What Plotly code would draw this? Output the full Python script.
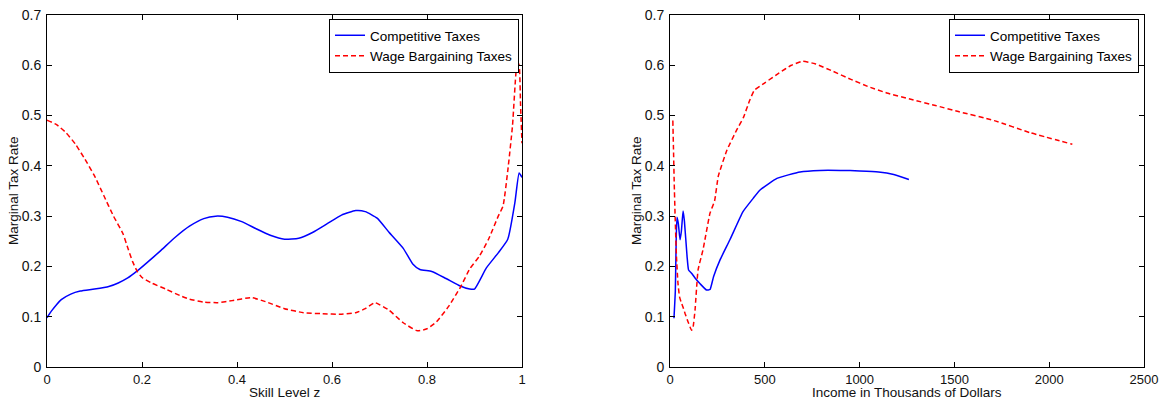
import plotly.graph_objects as go

# Left panel: marginal tax rate vs skill level z
z_comp = [0.0, 0.01, 0.02, 0.03, 0.05, 0.07, 0.1, 0.13, 0.15, 0.17, 0.19, 0.21, 0.24, 0.27, 0.3, 0.33,
          0.355, 0.38, 0.41, 0.44, 0.47, 0.5, 0.53, 0.56, 0.59, 0.62, 0.65, 0.67, 0.695, 0.72, 0.75,
          0.77, 0.785, 0.81, 0.84, 0.87, 0.89, 0.9, 0.925, 0.95, 0.97, 0.985, 0.994, 1.0]
t_comp = [0.098, 0.112, 0.124, 0.134, 0.145, 0.151, 0.155, 0.160, 0.167, 0.177, 0.191, 0.207, 0.232,
          0.258, 0.280, 0.295, 0.300, 0.298, 0.289, 0.275, 0.262, 0.254, 0.256, 0.268, 0.285, 0.302,
          0.311, 0.309, 0.296, 0.268, 0.236, 0.205, 0.194, 0.190, 0.176, 0.161, 0.155, 0.155, 0.197,
          0.227, 0.254, 0.327, 0.386, 0.377]

z_wage = [0.0, 0.02, 0.04, 0.06, 0.08, 0.1, 0.12, 0.14, 0.16, 0.17, 0.18, 0.19, 0.2, 0.22, 0.25, 0.28,
          0.3, 0.33, 0.36, 0.39, 0.43, 0.46, 0.5, 0.54, 0.58, 0.62, 0.65, 0.67, 0.69, 0.7, 0.72, 0.75,
          0.78, 0.8, 0.82, 0.845, 0.87, 0.89, 0.91, 0.93, 0.95, 0.96, 0.97, 0.98, 0.99, 0.994, 0.997, 1.0]
t_wage = [0.491, 0.482, 0.466, 0.443, 0.413, 0.380, 0.340, 0.300, 0.265, 0.237, 0.210, 0.190, 0.178,
          0.167, 0.155, 0.142, 0.135, 0.129, 0.128, 0.132, 0.138, 0.130, 0.116, 0.108, 0.106, 0.105,
          0.108, 0.116, 0.128, 0.124, 0.113, 0.088, 0.072, 0.076, 0.090, 0.120, 0.158, 0.195, 0.220,
          0.255, 0.300, 0.320, 0.390, 0.480, 0.608, 0.600, 0.520, 0.445]

# Right panel: marginal tax rate vs income (thousands of dollars)
inc_comp = [21, 28, 33, 37, 44, 53, 60, 69, 76, 90, 98, 115, 132, 160, 193, 211, 230, 264, 316, 385,
            440, 475, 564, 686, 791, 900, 1000, 1100, 1180, 1260]
r_comp = [0.097, 0.150, 0.260, 0.298, 0.285, 0.253, 0.270, 0.310, 0.290, 0.220, 0.193, 0.186, 0.177,
          0.165, 0.153, 0.154, 0.180, 0.213, 0.253, 0.309, 0.336, 0.352, 0.375, 0.388, 0.391, 0.391,
          0.390, 0.388, 0.383, 0.373]

inc_wage = [15, 18, 22, 27, 34, 42, 50, 58, 68, 79, 95, 114, 122, 132, 148, 174, 211, 235, 255, 300,
            350, 387, 420, 444, 500, 576, 640, 700, 765, 860, 954, 1050, 1143, 1275, 1400, 1521, 1710,
            1899, 2122]
r_wage = [0.490, 0.440, 0.370, 0.300, 0.220, 0.167, 0.140, 0.130, 0.120, 0.107, 0.090, 0.073, 0.080,
          0.113, 0.193, 0.233, 0.306, 0.330, 0.380, 0.431, 0.470, 0.496, 0.530, 0.550, 0.565, 0.585,
          0.600, 0.608, 0.603, 0.588, 0.572, 0.557, 0.545, 0.532, 0.520, 0.508, 0.490, 0.466, 0.443]

y_ticks = [0, 0.1, 0.2, 0.3, 0.4, 0.5, 0.6, 0.7]
y_labels = ["0", "0.1", "0.2", "0.3", "0.4", "0.5", "0.6", "0.7"]
x1_ticks = [0, 0.2, 0.4, 0.6, 0.8, 1]
x1_labels = ["0", "0.2", "0.4", "0.6", "0.8", "1"]
x2_ticks = [0, 500, 1000, 1500, 2000, 2500]
x2_labels = ["0", "500", "1000", "1500", "2000", "2500"]

x1_title = "Skill Level z"
x2_title = "Income in Thousands of Dollars"
y_title = "Marginal Tax Rate"

FONT = "Liberation Sans, Arial, Helvetica, sans-serif"
BLUE = "#0000ff"
RED = "#ff0000"

fig = go.Figure()
fig.add_trace(go.Scatter(x=z_comp, y=t_comp, mode="lines", name="Competitive Taxes",
                         line=dict(color=BLUE, width=1.5, shape="spline", smoothing=0.5),
                         xaxis="x", yaxis="y", legend="legend"))
fig.add_trace(go.Scatter(x=z_wage, y=t_wage, mode="lines", name="Wage Bargaining Taxes",
                         line=dict(color=RED, width=1.5, dash="5px,3px", shape="spline", smoothing=0.5),
                         xaxis="x", yaxis="y", legend="legend"))
fig.add_trace(go.Scatter(x=inc_comp, y=r_comp, mode="lines", name="Competitive Taxes",
                         line=dict(color=BLUE, width=1.5, shape="spline", smoothing=0.4),
                         xaxis="x2", yaxis="y2", legend="legend2"))
fig.add_trace(go.Scatter(x=inc_wage, y=r_wage, mode="lines", name="Wage Bargaining Taxes",
                         line=dict(color=RED, width=1.5, dash="5px,3px", shape="spline", smoothing=0.4),
                         xaxis="x2", yaxis="y2", legend="legend2"))

W, H = 1161, 399
ydom = [1 - 367 / H, 1 - 15 / H]
x1dom = [47 / W, 522 / W]
x2dom = [670 / W, 1144 / W]

axis_common = dict(showline=True, linecolor="black", linewidth=1, mirror="allticks",
                   ticks="inside", ticklen=5, tickcolor="black", showgrid=False, zeroline=False,
                   automargin=False)
xtick_font = dict(family=FONT, size=13, color="#111111")
ytick_font = dict(family=FONT, size=14, color="#111111")

legend_common = dict(bgcolor="white", bordercolor="black", borderwidth=1,
                     font=dict(family=FONT, size=13.5, color="black"),
                     xanchor="right", yanchor="top", tracegroupgap=0, itemwidth=30,
                     traceorder="normal")

fig.update_layout(
    width=W, height=H,
    margin=dict(l=0, r=0, t=0, b=0, autoexpand=False),
    paper_bgcolor="white", plot_bgcolor="white",
    font=dict(family=FONT, size=14, color="black"),
    xaxis=dict(domain=x1dom, range=[0, 1], tickvals=x1_ticks, ticktext=x1_labels,
               tickfont=xtick_font, anchor="y", **axis_common),
    yaxis=dict(domain=ydom, range=[0, 0.7], tickvals=y_ticks, ticktext=y_labels,
               tickfont=ytick_font, ticklabelstandoff=2, anchor="x", **axis_common),
    xaxis2=dict(domain=x2dom, range=[0, 2500], tickvals=x2_ticks, ticktext=x2_labels,
                tickfont=xtick_font, anchor="y2", **axis_common),
    yaxis2=dict(domain=ydom, range=[0, 0.7], tickvals=y_ticks, ticktext=y_labels,
                tickfont=ytick_font, ticklabelstandoff=2, anchor="x2", **axis_common),
    legend=dict(x=519 / W, y=1 - 19 / H, **legend_common),
    legend2=dict(x=1139 / W, y=1 - 19 / H, **legend_common),
)

title_font = dict(family=FONT, size=13.5, color="#111111")
for dom, txt in [(x1dom, x1_title), (x2dom, x2_title)]:
    fig.add_annotation(text=txt, xref="paper", yref="paper", x=(dom[0] + dom[1]) / 2,
                       y=0, xanchor="center", yanchor="bottom", showarrow=False,
                       font=title_font, borderpad=0, yshift=-2)
for xpix in [13, 636]:
    fig.add_annotation(text=y_title, xref="paper", yref="paper", x=xpix / W,
                       y=(ydom[0] + ydom[1]) / 2, xanchor="center", yanchor="middle",
                       textangle=-90, showarrow=False, font=title_font)

fig.write_html("out.html")
